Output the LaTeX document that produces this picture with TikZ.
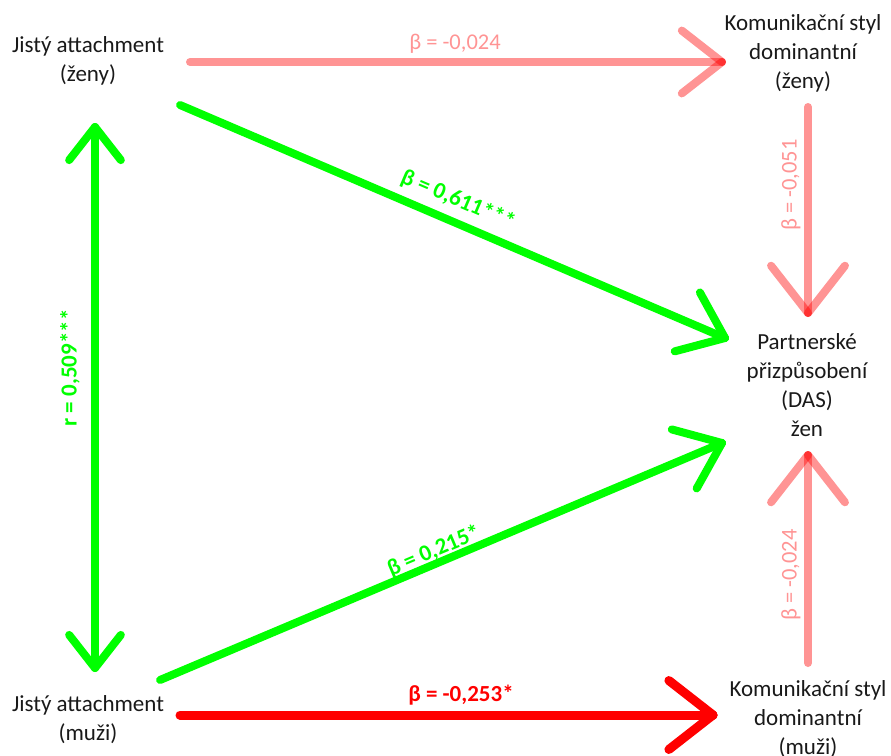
\documentclass[tikz,border=0pt]{standalone}
\usepackage{fontspec}
\setmainfont{Carlito}
\usetikzlibrary{calc}
\definecolor{pathgreen}{RGB}{0,255,0}
\definecolor{pathred}{RGB}{255,0,0}
\definecolor{txt}{RGB}{25,25,25}
\tikzset{
  box/.style={align=center,font=\fontsize{23}{29}\selectfont,text=txt,inner sep=0pt},
  lbl/.style={font=\fontsize{22.5}{25}\selectfont,inner sep=0pt},
  boldlbl/.style={font=\fontsize{23}{25}\selectfont\bfseries,inner sep=0pt},
  strongpath/.style={draw=pathgreen,line width=8pt,line cap=round},
  negpath/.style={draw=pathred,line width=9pt,line cap=round},
  weakpath/.style={draw=pathred,draw opacity=0.42,line width=8pt,line cap=round},
}
% open arrowhead: two separate barbs of length #4 meeting at the tip #2
\newcommand\barbs[4]{%
  \draw[#1] (#2) -- ($(#2)!#4pt!38:(#3)$);
  \draw[#1] (#2) -- ($(#2)!#4pt!-38:(#3)$);}
\begin{document}
\begin{tikzpicture}[x=1pt,y=-1pt]
\useasboundingbox (0,0) rectangle (891,755);
\clip (0,0) rectangle (891,755);

% variables
\node[box] (jz) at (88,61) {Jistý attachment\\(ženy)};
\node[box] (jm) at (88,720) {Jistý attachment\\(muži)};
\node[box] (kz) at (803,53) {Komunikační styl\\dominantní\\(ženy)};
\node[box] (km) at (808,719) {Komunikační styl\\dominantní\\(muži)};
\node[box] (das) at (807,385) {Partnerské\\přizpůsobení\\(DAS)\\žen};

% connector end points next to the variables
\coordinate (jz-r) at (190,62);
\coordinate (jz-d) at (180,105);
\coordinate (jz-b) at (95,127);
\coordinate (jm-t) at (95,668);
\coordinate (jm-u) at (160,680);
\coordinate (jm-r) at (180,715);
\coordinate (kz-l) at (722,62);
\coordinate (kz-b) at (808,107);
\coordinate (km-l) at (713,715);
\coordinate (km-t) at (808,663);
\coordinate (das-t) at (808,313);
\coordinate (das-b) at (808,455);
\coordinate (das-ul) at (725,338);
\coordinate (das-ll) at (722,443);

% weak (non-significant) paths
\draw[weakpath] (jz-r) -- (kz-l);
\barbs{weakpath}{kz-l}{jz-r}{51}
\draw[weakpath] (kz-b) -- (das-t);
\barbs{weakpath}{das-t}{kz-b}{60}
\draw[weakpath] (km-t) -- (das-b);
\barbs{weakpath}{das-b}{km-t}{60}

% significant paths
\draw[strongpath] (jz-b) -- (jm-t);
\barbs{strongpath}{jz-b}{jm-t}{42}
\barbs{strongpath}{jm-t}{jz-b}{42}
\draw[strongpath] (jz-d) -- (das-ul);
\barbs{strongpath}{das-ul}{jz-d}{52}
\draw[strongpath] (jm-u) -- (das-ll);
\barbs{strongpath}{das-ll}{jm-u}{52}
\draw[negpath] (jm-r) -- (km-l);
\barbs{negpath}{km-l}{jm-r}{56}

% coefficients
\node[lbl,text=pathred,text opacity=0.42] (c1) at (455,44) {β = -0,024};
\node[lbl,text=pathred,text opacity=0.42,rotate=90] (c2) at (791,185) {β = -0,051};
\node[lbl,text=pathred,text opacity=0.42,rotate=90] (c3) at (791,575) {β = -0,024};
\node[boldlbl,text=pathgreen,rotate=90] (c4) at (70,368) {r = 0,509***};
\node[boldlbl,text=pathgreen,rotate=-23.1] (c5) at (458,200) {β = 0,611***};
\node[boldlbl,text=pathgreen,rotate=22.9] (c6) at (434,551) {β = 0,215*};
\node[boldlbl,text=pathred] (c7) at (461,695) {β = -0,253*};
\end{tikzpicture}
\end{document}
